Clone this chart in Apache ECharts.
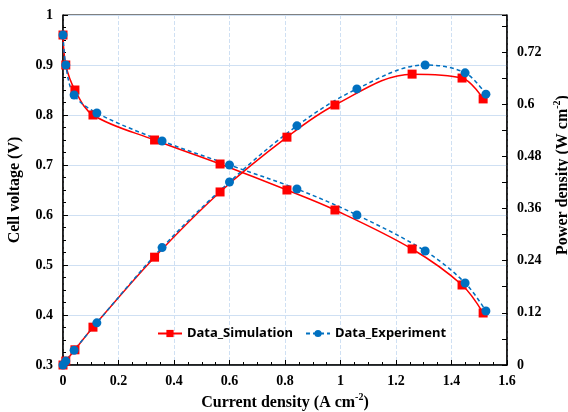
<!DOCTYPE html>
<html>
<head>
<meta charset="utf-8">
<script src="https://cdn.jsdelivr.net/npm/echarts@6/dist/echarts.min.js"></script>
<style>
  html, body { margin: 0; padding: 0; background: #fff; }
  #chart { width: 568px; height: 412px; }
</style>
</head>
<body>
<div id="chart"></div>
<script>
const simCurrent = [0, 0.01, 0.043, 0.108, 0.33, 0.566, 0.807, 0.98, 1.258, 1.438, 1.514]
const simVoltage = [0.96, 0.90, 0.85, 0.80, 0.75, 0.702, 0.65, 0.61, 0.532, 0.46, 0.404]
const simPower = [0, 0.009, 0.035, 0.087, 0.248, 0.398, 0.524, 0.598, 0.669, 0.660, 0.612]
const expCurrent = [0, 0.01, 0.04, 0.122, 0.357, 0.60, 0.843, 1.059, 1.305, 1.449, 1.524]
const expVoltage = [0.96, 0.90, 0.84, 0.804, 0.748, 0.70, 0.652, 0.60, 0.528, 0.464, 0.408]
const expPower = [0, 0.009, 0.034, 0.097, 0.27, 0.421, 0.55, 0.635, 0.69, 0.672, 0.623]

const pairs = (xs, ys) => xs.map((x, i) => [x, ys[i]])

const serif = 'Liberation Serif'
const tickFont = { fontFamily: serif, fontWeight: 'bold', fontSize: 14, color: '#000' }
const nameFont = {
  fontFamily: serif,
  fontWeight: 'bold',
  fontSize: 16,
  color: '#000',
  lineHeight: 20,
  rich: {
    sup: { fontFamily: serif, fontWeight: 'bold', fontSize: 10, color: '#000', verticalAlign: 'top' }
  }
}
const axisLine = { show: true, onZero: false, lineStyle: { color: '#000', width: 1.5 } }
const gridLine = (type) => ({ show: true, lineStyle: { color: '#cfe0f3', width: 1, type: type } })

const chart = echarts.init(document.getElementById('chart'))

const simStyle = {
  type: 'line',
  name: 'Data_Simulation',
  smooth: 0.35,
  symbol: 'rect',
  symbolSize: 9,
  lineStyle: { color: '#ff0000', width: 1.5 },
  itemStyle: { color: '#ff0000' }
}
const expStyle = {
  type: 'line',
  name: 'Data_Experiment',
  smooth: 0.35,
  symbol: 'circle',
  symbolSize: 9,
  lineStyle: { color: '#0070c0', width: 1.5, type: [4, 3] },
  itemStyle: { color: '#0070c0' }
}

chart.setOption({
  animation: false,
  grid: {
    left: 63, right: 61, top: 15, bottom: 47,
    outerBoundsMode: 'none',
    containLabel: false,
    show: true, borderColor: '#000', borderWidth: 1
  },
  legend: {
    left: 157,
    top: 327,
    padding: 0,
    itemWidth: 24,
    itemHeight: 9,
    itemGap: 12,
    textStyle: { fontFamily: 'Noto Sans', fontWeight: 'bold', fontSize: 13, color: '#000' },
    data: ['Data_Simulation', 'Data_Experiment']
  },
  xAxis: {
    type: 'value',
    min: 0,
    max: 1.6,
    interval: 0.2,
    name: 'Current density (A cm{sup|-2})',
    nameLocation: 'middle',
    nameGap: 27,
    nameTextStyle: nameFont,
    axisLine: axisLine,
    axisTick: { inside: true, length: 5, lineStyle: { color: '#000' } },
    minorTick: { show: true, splitNumber: 4, length: 3, lineStyle: { color: '#000' } },
    axisLabel: Object.assign({ margin: 9 }, tickFont),
    splitLine: gridLine('dashed')
  },
  yAxis: [
    {
      type: 'value',
      min: 0.3,
      max: 1,
      interval: 0.1,
      name: 'Cell voltage (V)',
      nameLocation: 'middle',
      nameRotate: 90,
      nameGap: 35,
      nameTextStyle: nameFont,
      axisLine: axisLine,
      axisTick: { inside: true, length: 5, lineStyle: { color: '#000' } },
      minorTick: { show: true, splitNumber: 4, length: 3, lineStyle: { color: '#000' } },
      axisLabel: Object.assign({ margin: 10 }, tickFont),
      splitLine: gridLine('solid')
    },
    {
      type: 'value',
      min: 0,
      max: 0.805,
      interval: 0.12,
      position: 'right',
      name: 'Power density (W cm{sup|-2})',
      nameLocation: 'middle',
      nameRotate: 90,
      nameGap: 44,
      nameTextStyle: Object.assign({}, nameFont, { padding: [0, 0, 0, 30] }),
      axisLine: axisLine,
      axisTick: { inside: true, length: 5, lineStyle: { color: '#000' } },
      minorTick: { show: true, splitNumber: 2, length: 5, lineStyle: { color: '#000' } },
      axisLabel: Object.assign({ margin: 10, showMaxLabel: false }, tickFont),
      splitLine: { show: false }
    }
  ],
  series: [
    Object.assign({}, simStyle, { yAxisIndex: 0, data: pairs(simCurrent, simVoltage) }),
    Object.assign({}, simStyle, { yAxisIndex: 1, data: pairs(simCurrent, simPower) }),
    Object.assign({}, expStyle, { yAxisIndex: 0, data: pairs(expCurrent, expVoltage) }),
    Object.assign({}, expStyle, { yAxisIndex: 1, data: pairs(expCurrent, expPower) })
  ]
})
</script>
</body>
</html>
